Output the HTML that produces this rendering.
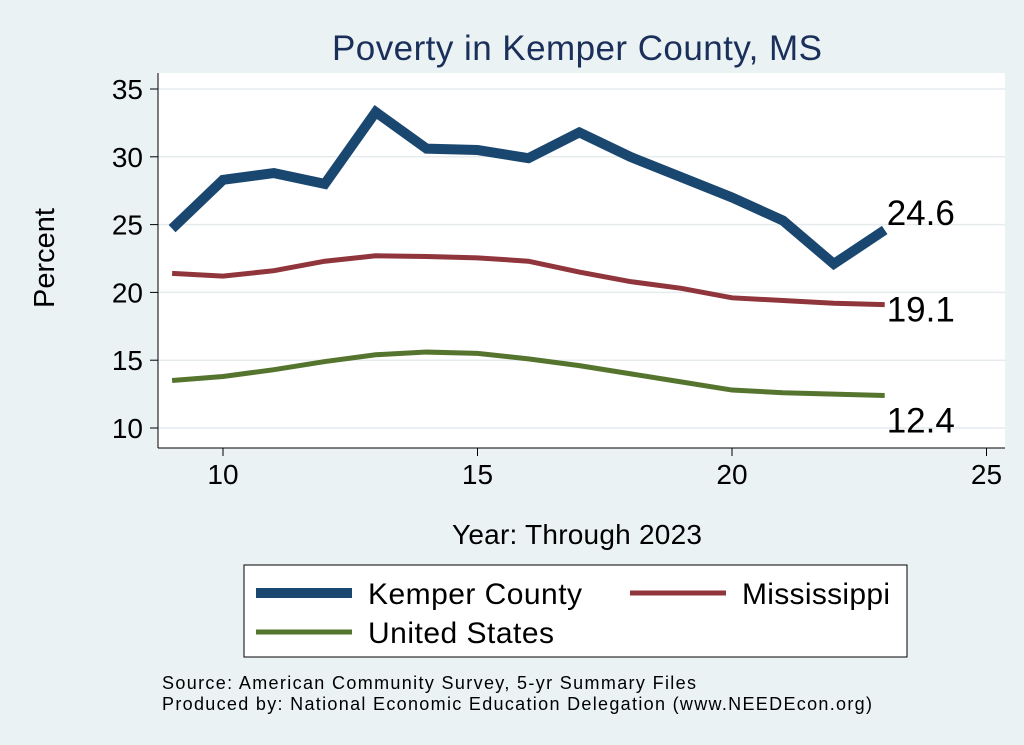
<!DOCTYPE html>
<html><head><meta charset="utf-8"><style>
body{margin:0;background:#eaf2f3;}
svg{display:block;font-family:"Liberation Sans",sans-serif;}
</style></head><body>
<svg id="c" width="1024" height="745">
<rect x="0" y="0" width="1024" height="745" fill="#eaf2f3"/>
<text x="577" y="60" font-size="35" fill="#1a2f5a" text-anchor="middle" textLength="490">Poverty in Kemper County, MS</text>
<rect x="158" y="73" width="847" height="375" fill="#fff"/>
<g id="grid"></g><g id="axes"></g><g id="series"></g>
<text x="54" y="258" font-size="29" text-anchor="middle" transform="rotate(-90 54 258)">Percent</text>
<text x="577" y="544" font-size="28" text-anchor="middle" textLength="250">Year: Through 2023</text>
<g>
<rect x="244" y="565" width="663" height="92" fill="#fff" stroke="#000" stroke-width="1"/>
<line x1="256" y1="593" x2="352" y2="593" stroke="#1a476f" stroke-width="10"/>
<text x="368" y="604" font-size="30" textLength="214">Kemper County</text>
<line x1="630" y1="593" x2="726" y2="593" stroke="#90353b" stroke-width="5"/>
<text x="742" y="604" font-size="30" textLength="148">Mississippi</text>
<line x1="256" y1="632" x2="352" y2="632" stroke="#55752f" stroke-width="5"/>
<text x="368" y="643" font-size="30" textLength="186">United States</text>
</g>
<text x="162" y="689" font-size="18" textLength="534">Source: American Community Survey, 5-yr Summary Files</text>
<text x="162" y="710" font-size="18" textLength="710">Produced by: National Economic Education Delegation (www.NEEDEcon.org)</text>
</svg>
<script>
const years=[9,10,11,12,13,14,15,16,17,18,19,20,21,22,23];
const kemper=[24.7,28.3,28.8,28.0,33.3,30.6,30.5,29.9,31.8,30.0,28.5,27.0,25.3,22.1,24.6];
const mississippi=[21.4,21.2,21.6,22.3,22.7,22.65,22.55,22.3,21.5,20.8,20.3,19.6,19.4,19.2,19.1];
const us=[13.5,13.8,14.3,14.9,15.4,15.6,15.5,15.1,14.6,14.0,13.4,12.8,12.6,12.5,12.4];
const yTicks=[10,15,20,25,30,35];
const xTicks=[10,15,20,25];
const NS="http://www.w3.org/2000/svg";
const xs=v=>223+(v-10)*50.9;
const ys=v=>428-(v-10)*13.56;
function mk(t,a,p){const e=document.createElementNS(NS,t);for(const k in a)e.setAttribute(k,a[k]);p.appendChild(e);return e;}
const g=document.getElementById('grid'),ax=document.getElementById('axes'),s=document.getElementById('series');
yTicks.forEach(v=>{
 const l=mk('line',{x1:158,x2:1005,y1:ys(v),y2:ys(v),stroke:'#e6ecee','stroke-width':1.5},g);
 
 
 mk('line',{x1:150,x2:158,y1:ys(v),y2:ys(v),stroke:'#000'},ax);
 const t=mk('text',{x:143,y:ys(v)+10,'font-size':28,'text-anchor':'end'},ax);t.textContent=v;
 
 
});
xTicks.forEach(v=>{
 mk('line',{x1:xs(v),x2:xs(v),y1:448,y2:456,stroke:'#000'},ax);
 const t=mk('text',{x:xs(v),y:484,'font-size':28,'text-anchor':'middle'},ax);t.textContent=v;
 
 
});
mk('line',{x1:158,x2:158,y1:73,y2:448,stroke:'#000'},ax);
mk('line',{x1:158,x2:1005,y1:448,y2:448,stroke:'#000'},ax);
function line(d,col,w,name,dy){
 const p=mk('polyline',{points:d.map((v,i)=>xs(years[i])+','+ys(v)).join(' '),fill:'none',stroke:col,'stroke-width':w,'stroke-linejoin':'miter'},s);
 
 
 const last=d[d.length-1];
 const t=mk('text',{x:xs(years[years.length-1])+2,y:ys(last)+dy,'font-size':35},s);
 t.textContent=last.toFixed(1);
 
 
}
line(kemper,'#1a476f',10,'kemper-line',-5);
line(mississippi,'#90353b',5,'mississippi-line',17);
line(us,'#55752f',5,'us-line',37);
</script>
</body></html>
